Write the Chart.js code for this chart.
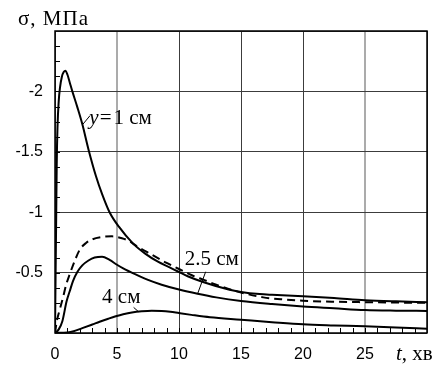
<!DOCTYPE html>
<html>
<head>
<meta charset="utf-8">
<script src="https://cdn.jsdelivr.net/npm/chart.js@4.4.1/dist/chart.umd.min.js"></script>
<style>
  html, body { margin: 0; padding: 0; background: #fff; }
</style>
</head>
<body>
<canvas id="stressCanvas" width="439" height="365"></canvas>
<script>
// time, min  /  stress, MPa
const t1 = [0, 0.03, 0.06, 0.1, 0.14, 0.2, 0.3, 0.4, 0.55, 0.7, 0.85, 1.0, 1.2, 1.4, 1.8, 2.2, 2.7, 3.3, 3.8, 4.4, 5.15, 6.3, 7.3, 8.3, 9.2, 10, 10.7, 12, 14, 15, 16.5, 17.5, 20, 22.5, 25, 27.5, 30];
const s1 = [0, -0.3, -0.6, -1.0, -1.4, -1.7, -1.92, -2.03, -2.12, -2.16, -2.17, -2.14, -2.07, -2.0, -1.87, -1.73, -1.52, -1.3, -1.15, -1.0, -0.88, -0.74, -0.655, -0.59, -0.545, -0.505, -0.47, -0.42, -0.36, -0.34, -0.322, -0.316, -0.305, -0.29, -0.272, -0.262, -0.255];

const t2 = [0, 0.15, 0.4, 0.66, 0.9, 1.2, 1.6, 2.0, 2.5, 3.0, 3.8, 4.6, 5.4, 6.0, 6.5, 7.5, 8.3, 9, 10, 11, 12, 13, 14, 15, 16.8, 18.5, 20, 22.5, 25, 27.5, 30];
const s2 = [0, -0.1, -0.2, -0.3, -0.4, -0.49, -0.6, -0.69, -0.745, -0.775, -0.795, -0.8, -0.785, -0.76, -0.725, -0.665, -0.62, -0.58, -0.53, -0.48, -0.44, -0.4, -0.365, -0.335, -0.295, -0.277, -0.267, -0.259, -0.255, -0.252, -0.25];

const t3 = [0, 0.3, 0.6, 0.93, 1.2, 1.45, 1.8, 2.2, 2.7, 3.2, 3.8, 4.4, 5, 5.5, 6.5, 7.5, 8.6, 10, 11.5, 13, 15, 17.5, 20, 22.5, 25, 27.5, 30];
const s3 = [0, -0.03, -0.1, -0.26, -0.35, -0.43, -0.505, -0.56, -0.6, -0.625, -0.632, -0.605, -0.565, -0.535, -0.485, -0.44, -0.4, -0.36, -0.325, -0.295, -0.265, -0.24, -0.22, -0.205, -0.19, -0.185, -0.183];

const t4 = [0, 1, 1.5, 2.2, 3, 3.6, 4.3, 4.9, 5.5, 6.2, 7, 7.8, 8.6, 9.3, 10, 11, 12.5, 15, 17.5, 20, 22.5, 25, 27.5, 30];
const s4 = [0, -0.005, -0.015, -0.04, -0.07, -0.093, -0.118, -0.138, -0.155, -0.17, -0.18, -0.185, -0.183, -0.176, -0.165, -0.15, -0.13, -0.11, -0.09, -0.072, -0.063, -0.056, -0.045, -0.035];

const xTickLabels = [0, 5, 10, 15, 20, 25];
const yTickLabels = [-2, -1.5, -1, -0.5];

const serif = '"Liberation Serif", "Times New Roman", serif';
const sans = '"Liberation Sans", Arial, sans-serif';

function pairs(ts, ss) {
  return ts.map((t, i) => ({ x: t, y: ss[i] }));
}

function curve(ts, ss, dash) {
  return {
    data: pairs(ts, ss),
    borderColor: '#000',
    borderWidth: 2,
    borderDash: dash || [],
    pointRadius: 0,
    cubicInterpolationMode: 'monotone',
    fill: false
  };
}

// frame, inner minor ticks, curve captions and axis titles
const decor = {
  id: 'decor',
  afterDraw(chart) {
    const ctx = chart.ctx;
    const a = chart.chartArea;
    const x = chart.scales.x, y = chart.scales.y;
    const px = v => x.getPixelForValue(v);
    const py = v => y.getPixelForValue(v);

    ctx.save();
    ctx.strokeStyle = '#000';
    ctx.lineWidth = 1;
    ctx.beginPath();
    for (let v = 1; v < 30; v++) {
      const p = Math.round(px(v)) + 0.5;
      ctx.moveTo(p, a.bottom);
      ctx.lineTo(p, a.bottom - 5);
    }
    for (let v = -0.125; v > -2.5; v -= 0.125) {
      const p = Math.round(py(v)) + 0.5;
      ctx.moveTo(a.left, p);
      ctx.lineTo(a.left + 5, p);
    }
    ctx.stroke();

    ctx.lineWidth = 1.5;
    ctx.strokeRect(a.left, a.top, a.right - a.left, a.bottom - a.top);

    // leader lines
    ctx.lineWidth = 1;
    ctx.beginPath();
    ctx.moveTo(px(2.24), py(-1.727)); ctx.lineTo(px(2.83), py(-1.80));
    ctx.moveTo(px(12.15), py(-0.507)); ctx.lineTo(px(11.49), py(-0.322));
    ctx.moveTo(px(6.34), py(-0.212)); ctx.lineTo(px(6.74), py(-0.176));
    ctx.stroke();

    ctx.fillStyle = '#000';
    ctx.textBaseline = 'alphabetic';
    ctx.textAlign = 'left';

    // y = 1 см
    let cx = px(2.77);
    const by = py(-1.733);
    ctx.font = 'italic 21px ' + serif;
    ctx.fillText('y', cx, by);
    cx += ctx.measureText('y').width + 1;
    ctx.font = '21px ' + serif;
    ctx.fillText('=', cx, by);
    cx += ctx.measureText('=').width + 2;
    ctx.fillText('1 см', cx, by);

    ctx.fillText('2.5 см', px(10.46), py(-0.562));
    ctx.fillText('4 см', px(3.8), py(-0.248));

    // axis titles
    ctx.letterSpacing = '1px';
    ctx.fillText('σ, МПа', 18, 25);
    ctx.letterSpacing = '0px';
    ctx.font = 'italic 21px ' + serif;
    ctx.fillText('t', 396, 360);
    const tw = ctx.measureText('t').width;
    ctx.font = '21px ' + serif;
    ctx.fillText(', хв', 396 + tw, 360);
    ctx.restore();
  }
};

window.addEventListener('load', function () {
  const ctx = document.getElementById('stressCanvas').getContext('2d');
  const dark = '#3c3c3c';
  const light = '#ababab';

  new Chart(ctx, {
    type: 'line',
    data: {
      datasets: [
        curve(t1, s1),
        curve(t2, s2, [8, 5]),
        curve(t3, s3),
        curve(t4, s4)
      ]
    },
    options: {
      responsive: false,
      animation: false,
      layout: { padding: { top: 31, right: 5, left: 0, bottom: 0 } },
      plugins: { legend: { display: false }, tooltip: { enabled: false } },
      scales: {
        x: {
          type: 'linear',
          min: 0,
          max: 30,
          afterFit: s => { s.height = 32; },
          border: { display: false },
          grid: {
            color: c => (c.tick && (c.tick.value === 5 || c.tick.value === 25)) ? light : dark,
            lineWidth: c => (c.tick && (c.tick.value === 5 || c.tick.value === 25)) ? 2 : 1,
            drawTicks: false
          },
          ticks: {
            stepSize: 5,
            padding: 12,
            color: '#000',
            font: { family: sans, size: 16 },
            maxRotation: 0,
            callback: v => xTickLabels.includes(v) ? String(v) : ''
          }
        },
        y: {
          type: 'linear',
          min: -2.5,
          max: 0,
          reverse: true,
          afterFit: s => { s.width = 55; },
          border: { display: false },
          grid: { color: dark, lineWidth: 1, drawTicks: false },
          ticks: {
            stepSize: 0.5,
            padding: 12,
            color: '#000',
            font: { family: sans, size: 16 },
            callback: v => yTickLabels.includes(v) ? String(v) : ''
          }
        }
      }
    },
    plugins: [decor]
  });
});
</script>
</body>
</html>
